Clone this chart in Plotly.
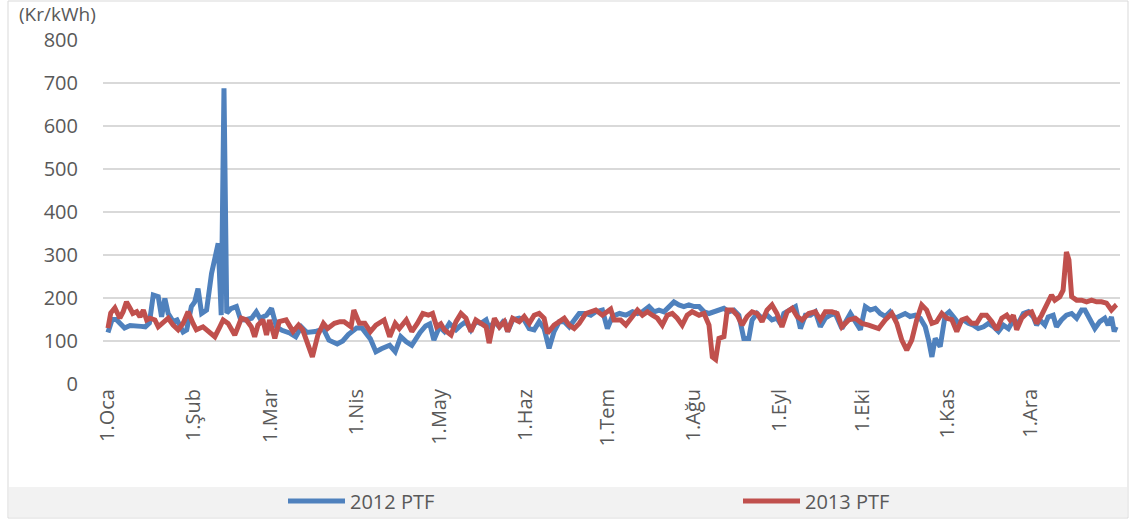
import plotly.graph_objects as go

# ---- data (day of year, value in Kr/kWh) ----
month_days = [0, 31, 59, 90, 120, 151, 181, 212, 243, 273, 304, 334]
month_labels = ["1.Oca", "1.Şub", "1.Mar", "1.Nis", "1.May", "1.Haz",
                "1.Tem", "1.Ağu", "1.Eyl", "1.Eki", "1.Kas", "1.Ara"]

days_2012 = [0, 1.5, 3, 4.5, 6, 8, 10, 12, 13.5, 15, 16.4, 18.2, 19.4, 20.6, 21.8, 23.6, 25, 26, 27.2, 28.5,
             30.2, 31.4, 32.6, 33.9, 35.7, 37.5, 38.7, 39.9, 41, 42, 43, 44.5, 46.5, 48, 49.5, 52, 53.7, 55, 57.4, 59.2,
             61, 63, 66, 68, 70, 72, 75, 78, 80, 83, 85, 87, 90, 92, 95, 97, 99, 102, 104, 106,
             108, 110, 113, 115, 116.5, 118, 120, 121.8, 123.6, 126, 127.8, 129.6, 131.4, 133.2, 135, 136.9, 138, 139.9, 141.7, 143.5,
             144.7, 146.5, 148.9, 150.7, 152.5, 154.3, 156.1, 157.9, 159.7, 161.5, 163.4, 165.2, 167, 168.8, 170.6, 173, 174.8, 176.6, 179, 180.8,
             182.6, 185.2, 187.5, 189.9, 191.7, 193.5, 195.9, 197.7, 199.5, 201.3, 203.1, 204.9, 206.7, 208.5, 210.3, 212.2, 214, 215.8, 217.6, 219.4,
             221.2, 223, 224.8, 226.6, 228.4, 230.2, 232, 233.2, 235, 236.8, 238.6, 240.4, 242.2, 243.5, 244.7, 246.5, 248.9, 250.7, 252.5, 254.3,
             256.1, 257.9, 259.7, 261.5, 263.3, 265.7, 267.5, 268.8, 270.6, 272.4, 274.2, 276, 277.8, 279.6, 281.4, 283.2, 285, 286.8, 288.6, 290.4,
             292.3, 294.1, 295.9, 297.1, 298.3, 299.5, 301.3, 303.1, 304.6, 306.1, 307.9, 309.7, 311.5, 313.3, 315.1, 317, 318.8, 320.6, 322.4, 324.2,
             326, 327.8, 329.6, 331.4, 333.2, 335, 336.2, 337.4, 339.2, 340.4, 342.2, 343.4, 345.2, 347, 348.9, 350.7, 352.5, 353.7, 355.5, 357.3,
             359.1, 360.9, 362.1, 363.3, 364.3, 365]
ptf_2012 = [120, 150, 150, 140, 130, 136, 136, 134, 133, 142, 207, 203, 156, 199, 164, 145, 149, 133, 121, 126,
            180, 191, 222, 164, 172, 257, 296, 327, 160, 688, 165, 175, 180, 150, 149, 153, 168, 153, 160, 176,
            133, 125, 118, 110, 133, 120, 122, 128, 102, 93, 100, 115, 130, 130, 105, 75, 82, 90, 75, 110,
            98, 90, 120, 135, 140, 102, 133, 122, 141, 126, 137, 145, 126, 145, 141, 149, 129, 145, 133, 149,
            122, 149, 153, 149, 129, 126, 145, 129, 83, 122, 145, 145, 133, 149, 164, 164, 160, 168, 172, 129,
            157, 164, 160, 168, 164, 168, 180, 168, 172, 168, 180, 191, 184, 180, 184, 180, 180, 168, 164, 168,
            172, 176, 168, 172, 160, 106, 106, 149, 164, 153, 160, 149, 153, 140, 164, 172, 180, 129, 160, 160,
            168, 133, 153, 160, 164, 129, 149, 164, 145, 126, 180, 172, 176, 164, 157, 168, 153, 160, 164, 157,
            160, 153, 133, 102, 63, 106, 87, 160, 168, 156, 141, 149, 141, 137, 129, 133, 141, 133, 122, 137,
            129, 149, 141, 164, 168, 156, 137, 149, 137, 156, 160, 133, 149, 160, 164, 153, 172, 172, 153, 129,
            145, 153, 137, 156, 122, 133]

days_2013 = [0, 1, 2.5, 3.3, 4.3, 5.5, 6.7, 8, 9, 10.4, 11.6, 12.8, 14, 15.2, 17, 18.2, 20, 21.8, 23.6, 25.4,
             27.2, 29, 30.8, 32, 34.4, 36.3, 38.7, 40.5, 41.7, 43.5, 44.7, 45.9, 47.1, 48.3, 50.1, 51.9, 53.1, 54.3, 56.1, 57.4,
             58.5, 60.4, 62, 64.5, 67, 69, 70.5, 72, 74, 76, 78, 79.5, 82, 84, 85.5, 88, 89, 91, 93, 95,
             97, 100, 102, 104, 105.5, 108, 110, 112, 114, 116, 117.5, 119, 120.5, 121.8, 124.2, 126, 127.8, 129.6, 131.4, 133.2,
             135, 136.9, 138, 139.9, 141.7, 143.5, 144.7, 146.5, 148.9, 150.7, 152.5, 154.3, 156.1, 157.9, 159.1, 161.5, 163.4, 165.2, 167, 168.8,
             170.6, 172, 173, 174.8, 176.6, 179, 180.8, 182, 183.2, 185.6, 187.5, 189.3, 191.7, 193.5, 195.3, 197.1, 198.9, 200.7, 202.5, 204.3,
             206.1, 207.9, 209.7, 211.5, 214, 215.8, 217.6, 218.8, 220, 221.2, 223, 224.2, 226, 227.8, 229.6, 231.4, 233.2, 235, 236.8, 238.6,
             240.4, 242.2, 244, 245.9, 247.7, 249.5, 251.3, 253.7, 256.1, 257.9, 259.7, 262.1, 264, 265.7, 268.2, 270.6, 273, 275.4, 279, 281.4,
             283.8, 285.6, 287.4, 289.2, 291, 292.8, 294.6, 296.4, 298.3, 300, 301.9, 303.7, 305.5, 307.3, 309.1, 310.9, 312.7, 314.5, 316.3, 318.1,
             320, 321.8, 323.6, 325.4, 326.6, 327.8, 329, 330.8, 332.6, 334.4, 336.2, 338, 339.2, 340.4, 341.6, 342.8, 344.6, 345.8, 347, 347.9,
             348.9, 350.7, 352.5, 354.3, 356.1, 357.9, 359.7, 361.5, 363.3, 364.5, 365]
ptf_2013 = [130, 165, 177, 168, 153, 168, 191, 176, 164, 168, 156, 172, 149, 153, 149, 133, 145, 153, 137, 126,
            141, 168, 141, 126, 133, 122, 110, 133, 149, 141, 129, 114, 133, 153, 149, 133, 110, 137, 149, 114,
            149, 106, 145, 149, 122, 137, 126, 95, 63, 114, 141, 129, 141, 145, 145, 133, 172, 141, 141, 122,
            137, 149, 110, 141, 129, 149, 122, 141, 164, 160, 164, 133, 140, 126, 114, 145, 164, 153, 122, 149,
            141, 133, 95, 153, 133, 145, 122, 153, 145, 157, 141, 160, 164, 153, 118, 137, 145, 153, 137, 129,
            141, 153, 164, 168, 172, 160, 168, 174, 149, 149, 137, 153, 172, 160, 168, 160, 153, 137, 160, 164,
            153, 137, 160, 168, 160, 164, 137, 63, 57, 106, 110, 172, 172, 160, 137, 157, 168, 164, 145, 172,
            184, 164, 133, 168, 176, 157, 149, 164, 168, 149, 168, 168, 164, 133, 149, 153, 141, 137, 129, 149,
            164, 141, 102, 79, 102, 149, 184, 172, 141, 145, 164, 153, 150, 122, 149, 153, 141, 141, 160, 160,
            145, 126, 153, 160, 149, 160, 126, 153, 164, 168, 141, 160, 176, 195, 207, 195, 203, 218, 307, 289,
            203, 195, 195, 191, 195, 191, 191, 188, 172, 180, 176]

# ---- geometry helpers (pixel -> paper) ----
W, H = 1130, 519
L, R, T, B = 103, 10, 40, 135
PW, PH = W - L - R, H - T - B


def px(x):
    return (x - L) / PW


def py(y):
    return (H - B - y) / PH


FONT = "Open Sans"
GREY = "#595959"

fig = go.Figure()
fig.add_trace(go.Scatter(x=days_2012, y=ptf_2012, mode="lines", name="2012 PTF",
                         line=dict(color="#4F81BD", width=5), legend="legend"))
fig.add_trace(go.Scatter(x=days_2013, y=ptf_2013, mode="lines", name="2013 PTF",
                         line=dict(color="#C0504D", width=5), legend="legend2"))

legend_common = dict(yanchor="middle", orientation="h", xanchor="left",
                     bgcolor="rgba(0,0,0,0)", itemwidth=57,
                     font=dict(family=FONT, size=20, color=GREY))

fig.update_layout(
    width=W, height=H, autosize=False,
    margin=dict(l=L, r=R, t=T, b=B, pad=0, autoexpand=False),
    paper_bgcolor="white", plot_bgcolor="white",
    font=dict(family=FONT, size=20, color=GREY),
    xaxis=dict(range=[-1.8, 366.4], tickmode="array", tickvals=month_days, ticktext=month_labels,
               tickangle=-90, showgrid=False, zeroline=False, showline=False,
               tickfont=dict(family=FONT, size=20, color=GREY), ticks=""),
    yaxis=dict(range=[0, 800], dtick=100, tick0=0, showgrid=True, gridcolor="#d9d9d9", gridwidth=2,
               zeroline=False, showline=False, ticks="outside", ticklen=20,
               tickcolor="rgba(0,0,0,0)", tickfont=dict(family=FONT, size=20, color=GREY)),
    legend=dict(x=px(283), y=py(501), **legend_common),
    legend2=dict(x=px(738), y=py(501), **legend_common),
    shapes=[
        dict(type="rect", xref="paper", yref="paper", x0=px(9), x1=px(1127), y0=py(487), y1=py(517),
             fillcolor="#f2f2f2", line=dict(width=0), layer="below"),
        dict(type="rect", xref="paper", yref="paper", x0=px(8), x1=px(1128), y0=py(1), y1=py(518),
             fillcolor="rgba(0,0,0,0)", line=dict(color="#d9d9d9", width=1), layer="below"),
    ],
    annotations=[
        dict(text="(Kr/kWh)", xref="paper", yref="paper", x=px(18), y=py(14), xanchor="left",
             yanchor="middle", showarrow=False, borderpad=0,
             font=dict(family=FONT, size=19, color=GREY)),
    ],
    showlegend=True,
)

fig.write_html("out.html", config={"displayModeBar": False},
               post_script="document.body.style.margin='0px';")
